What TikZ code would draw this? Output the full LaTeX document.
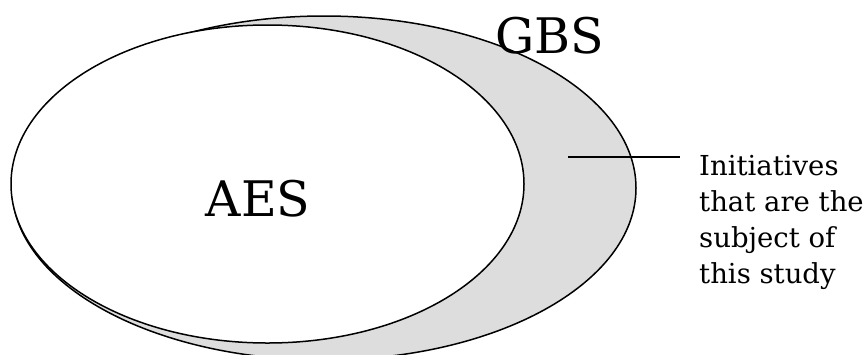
\documentclass[tikz,border=0pt]{standalone}
\usepackage{fontspec}
\setmainfont{DejaVu Serif}
\definecolor{shade}{HTML}{DDDDDD}
\tikzset{
  setline/.style={draw=black, line width=1.5pt},
  biglabel/.style={inner sep=0pt, font=\fontsize{49}{54}\selectfont},
  notelabel/.style={inner sep=0pt, align=left, anchor=base west, font=\fontsize{27.5}{35.7}\selectfont},
  leader/.style={draw=black, line width=1.5pt}
}
\begin{document}
\begin{tikzpicture}[x=1pt,y=-1pt]
\useasboundingbox (0,0) rectangle (864,354);
% GBS (outer) ellipse
\path[setline, fill=shade] (324,188) ellipse [x radius=312, y radius=172];
% AES (inner) ellipse
\path[setline, fill=white] (267.5,184) ellipse [x radius=256.5, y radius=159];
\node[biglabel, anchor=base] (aes) at (258,216) {AES};
\node[biglabel, anchor=base] (gbs) at (550,53) {GBS};
% base anchor of a multi-line node is the baseline of its last line
\node[notelabel] (note) at (699,283) {Initiatives\\that are the\\subject of\\this study};
\coordinate (lstart) at (568,157);
\coordinate (lend) at (680,157);
\draw[leader] (lstart) -- (lend);
\end{tikzpicture}
\end{document}
